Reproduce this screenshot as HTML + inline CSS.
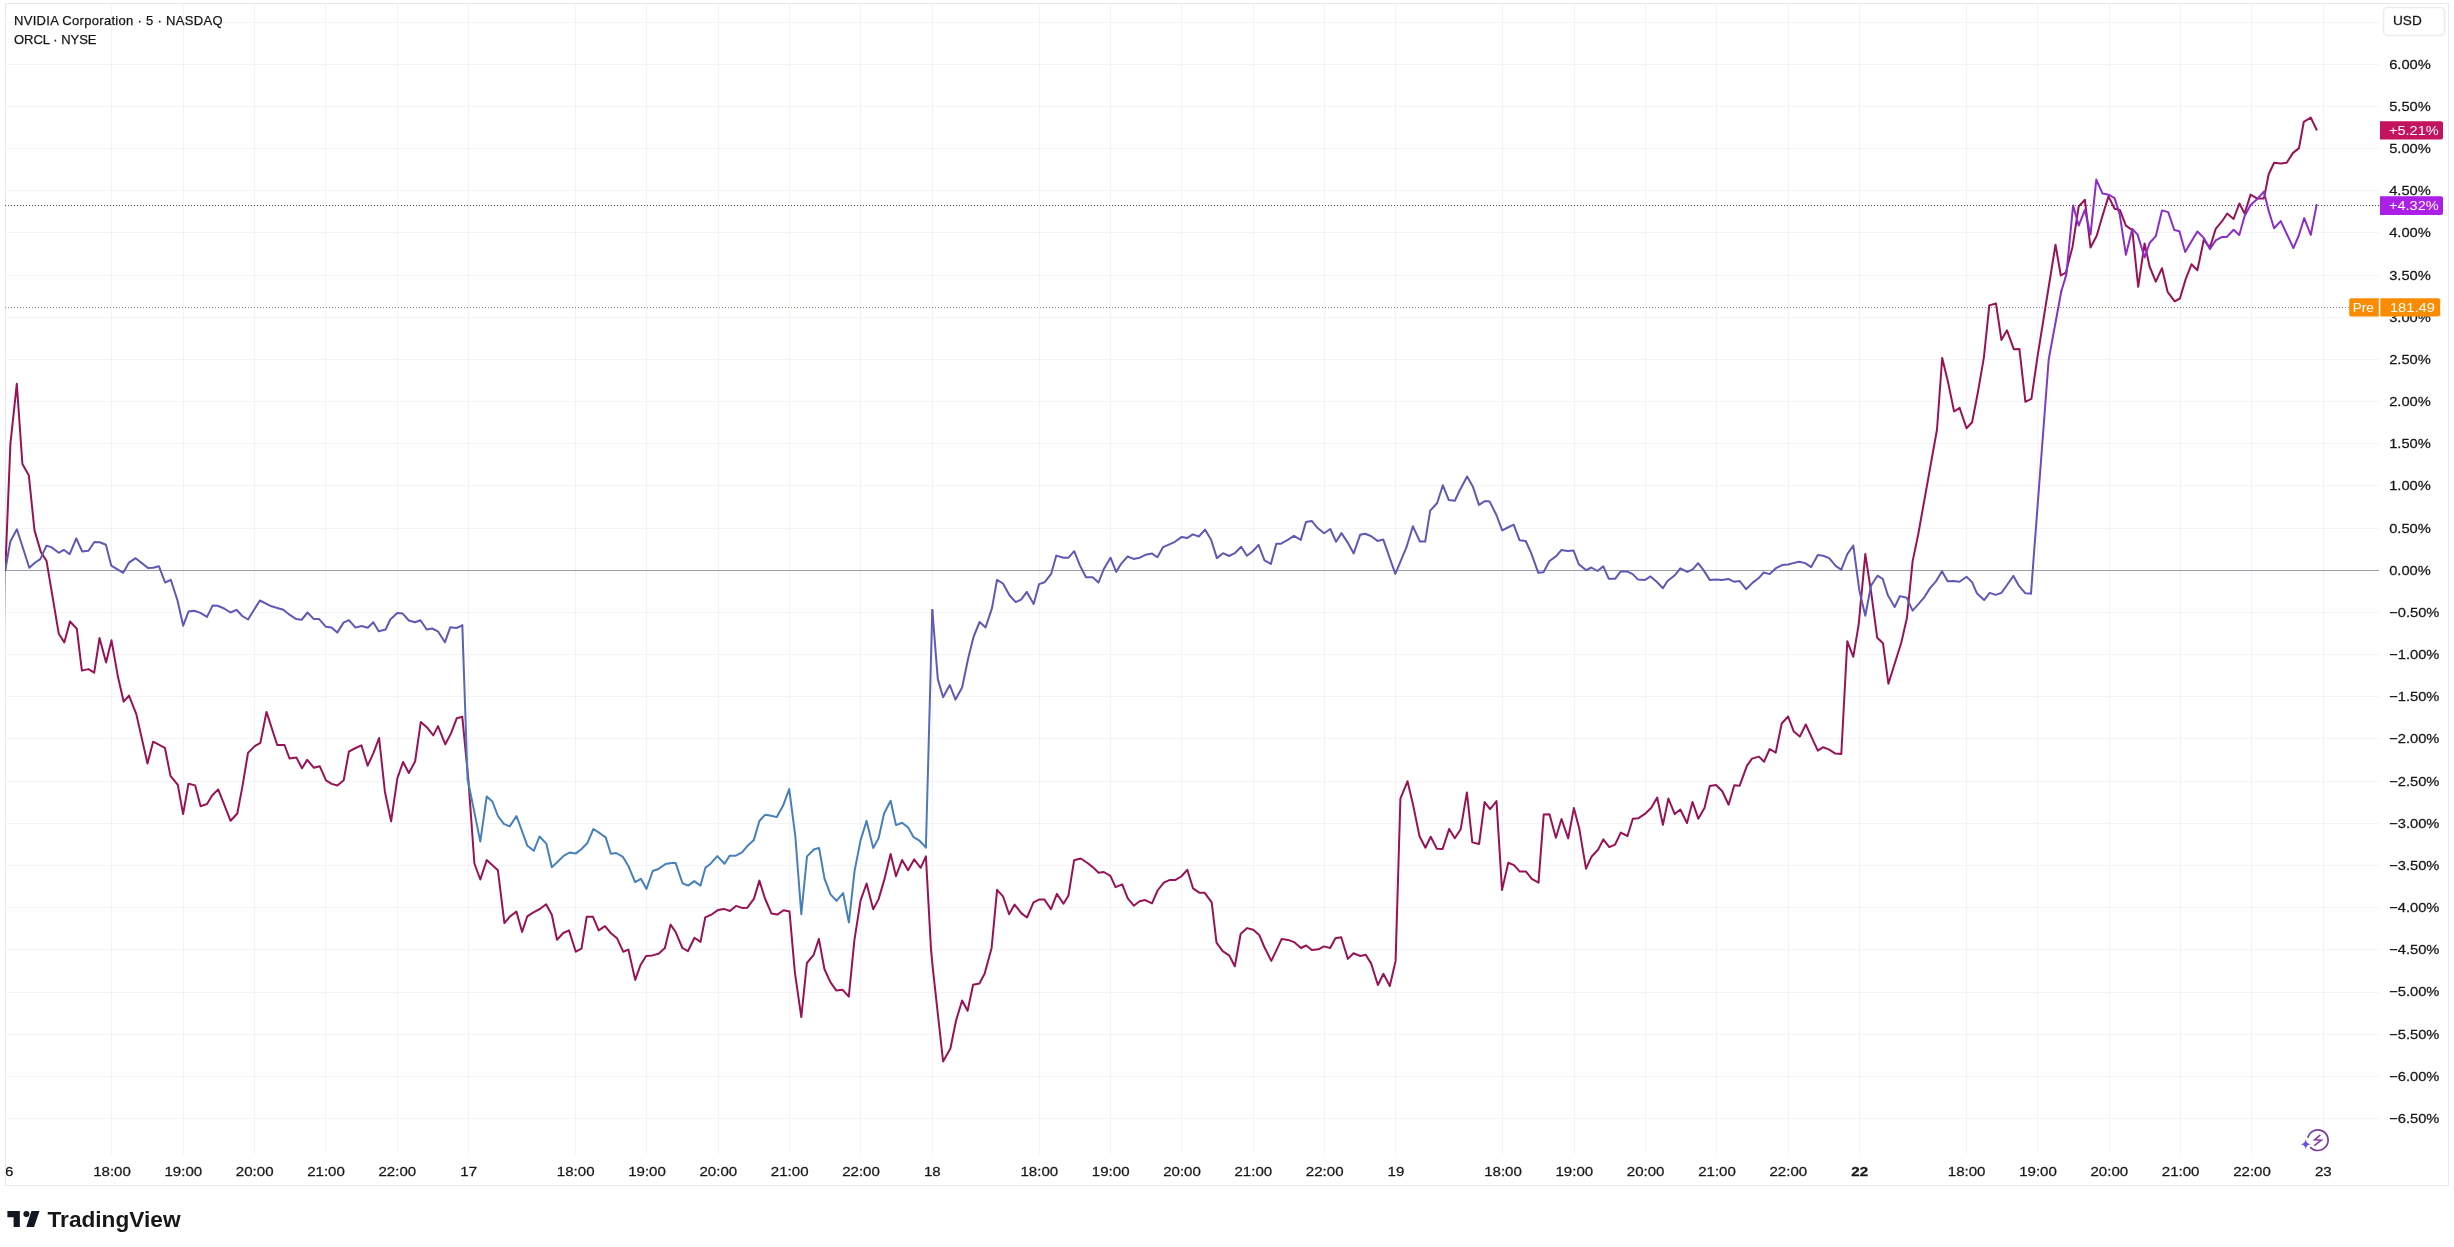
<!DOCTYPE html><html><head><meta charset="utf-8"><style>
html,body{margin:0;padding:0;background:#fff;}
body{width:2454px;height:1247px;overflow:hidden;position:relative;font-family:"Liberation Sans",sans-serif;}
svg{position:absolute;left:0;top:0;}
text{font-family:"Liberation Sans",sans-serif;}
.gs{filter:grayscale(1);}
.bd{stroke:#131722;stroke-width:0.25px;}
</style></head><body>
<svg width="2454" height="1247" viewBox="0 0 2454 1247">
<defs>
<clipPath id="plot"><rect x="5" y="3" width="2374" height="1151"/></clipPath>
<clipPath id="taxis"><rect x="6" y="1154" width="2374" height="32"/></clipPath>
<linearGradient id="g1" gradientUnits="userSpaceOnUse" x1="0" y1="625" x2="0" y2="780"><stop offset="0" stop-color="#5e59b6"/><stop offset="1" stop-color="#4680bc"/></linearGradient>
<linearGradient id="g2" gradientUnits="userSpaceOnUse" x1="0" y1="847" x2="0" y2="610"><stop offset="0" stop-color="#4680bc"/><stop offset="1" stop-color="#5e59b6"/></linearGradient>
<linearGradient id="g3" gradientUnits="userSpaceOnUse" x1="0" y1="594" x2="0" y2="280"><stop offset="0" stop-color="#5e59b6"/><stop offset="1" stop-color="#8c2ec6"/></linearGradient>
</defs>
<rect x="5.5" y="3.5" width="2443" height="1182" fill="none" stroke="#e9e9eb" stroke-width="1"/>
<g stroke="#f4f4f6" stroke-width="1"><line x1="111.5" y1="3" x2="111.5" y2="1154"/><line x1="183.5" y1="3" x2="183.5" y2="1154"/><line x1="254.5" y1="3" x2="254.5" y2="1154"/><line x1="325.5" y1="3" x2="325.5" y2="1154"/><line x1="397.5" y1="3" x2="397.5" y2="1154"/><line x1="468.5" y1="3" x2="468.5" y2="1154"/><line x1="575.5" y1="3" x2="575.5" y2="1154"/><line x1="646.5" y1="3" x2="646.5" y2="1154"/><line x1="718.5" y1="3" x2="718.5" y2="1154"/><line x1="789.5" y1="3" x2="789.5" y2="1154"/><line x1="860.5" y1="3" x2="860.5" y2="1154"/><line x1="932.5" y1="3" x2="932.5" y2="1154"/><line x1="1039.5" y1="3" x2="1039.5" y2="1154"/><line x1="1110.5" y1="3" x2="1110.5" y2="1154"/><line x1="1181.5" y1="3" x2="1181.5" y2="1154"/><line x1="1253.5" y1="3" x2="1253.5" y2="1154"/><line x1="1324.5" y1="3" x2="1324.5" y2="1154"/><line x1="1395.5" y1="3" x2="1395.5" y2="1154"/><line x1="1502.5" y1="3" x2="1502.5" y2="1154"/><line x1="1574.5" y1="3" x2="1574.5" y2="1154"/><line x1="1645.5" y1="3" x2="1645.5" y2="1154"/><line x1="1716.5" y1="3" x2="1716.5" y2="1154"/><line x1="1788.5" y1="3" x2="1788.5" y2="1154"/><line x1="1859.5" y1="3" x2="1859.5" y2="1154"/><line x1="1966.5" y1="3" x2="1966.5" y2="1154"/><line x1="2037.5" y1="3" x2="2037.5" y2="1154"/><line x1="2109.5" y1="3" x2="2109.5" y2="1154"/><line x1="2180.5" y1="3" x2="2180.5" y2="1154"/><line x1="2251.5" y1="3" x2="2251.5" y2="1154"/><line x1="2323.5" y1="3" x2="2323.5" y2="1154"/><line x1="5" y1="1118.5" x2="2379" y2="1118.5"/><line x1="5" y1="1076.5" x2="2379" y2="1076.5"/><line x1="5" y1="1034.5" x2="2379" y2="1034.5"/><line x1="5" y1="992.5" x2="2379" y2="992.5"/><line x1="5" y1="949.5" x2="2379" y2="949.5"/><line x1="5" y1="907.5" x2="2379" y2="907.5"/><line x1="5" y1="865.5" x2="2379" y2="865.5"/><line x1="5" y1="823.5" x2="2379" y2="823.5"/><line x1="5" y1="781.5" x2="2379" y2="781.5"/><line x1="5" y1="738.5" x2="2379" y2="738.5"/><line x1="5" y1="696.5" x2="2379" y2="696.5"/><line x1="5" y1="654.5" x2="2379" y2="654.5"/><line x1="5" y1="612.5" x2="2379" y2="612.5"/><line x1="5" y1="528.5" x2="2379" y2="528.5"/><line x1="5" y1="485.5" x2="2379" y2="485.5"/><line x1="5" y1="443.5" x2="2379" y2="443.5"/><line x1="5" y1="401.5" x2="2379" y2="401.5"/><line x1="5" y1="359.5" x2="2379" y2="359.5"/><line x1="5" y1="317.5" x2="2379" y2="317.5"/><line x1="5" y1="275.5" x2="2379" y2="275.5"/><line x1="5" y1="232.5" x2="2379" y2="232.5"/><line x1="5" y1="190.5" x2="2379" y2="190.5"/><line x1="5" y1="148.5" x2="2379" y2="148.5"/><line x1="5" y1="106.5" x2="2379" y2="106.5"/><line x1="5" y1="64.5" x2="2379" y2="64.5"/><line x1="5" y1="22.5" x2="2379" y2="22.5"/></g>
<line x1="5" y1="570.5" x2="2379" y2="570.5" stroke="#9b9ea6" stroke-width="1"/>
<linearGradient id="gl" gradientUnits="userSpaceOnUse" x1="0" y1="570" x2="0" y2="628"><stop offset="0" stop-color="#9b9ea6"/><stop offset="1" stop-color="#e9e9eb"/></linearGradient>
<line x1="5.5" y1="570" x2="5.5" y2="628" stroke="url(#gl)" stroke-width="1"/>
<line x1="5" y1="205.5" x2="2380" y2="205.5" stroke="#5e3f5e" stroke-width="1" stroke-dasharray="1 2"/>
<line x1="5" y1="307.5" x2="2349" y2="307.5" stroke="#8e896c" stroke-width="1" stroke-dasharray="1 2"/>
<g clip-path="url(#plot)" fill="none" stroke-width="2" stroke-linejoin="round" stroke-linecap="round">
<polyline stroke="#981355" points="5.3,570.0 10.4,443.9 16.8,383.8 22.4,464.0 28.8,475.2 34.5,530.4 40.9,552.1 46.5,560.8 58.8,633.8 64.3,642.4 70.0,621.5 76.8,628.7 81.9,670.6 88.4,669.1 94.2,672.7 99.5,638.1 106.1,662.6 111.5,640.3 118.0,677.1 123.7,701.7 129.0,695.6 136.3,714.1 147.5,763.5 153.1,741.7 164.9,747.8 170.5,775.9 177.8,784.9 183.1,814.1 188.5,783.8 195.2,785.4 200.6,806.2 207.0,804.0 212.1,795.5 218.2,789.4 230.6,820.8 237.3,813.5 242.4,786.6 248.0,752.9 254.7,746.1 260.4,742.8 266.5,711.9 277.2,745.0 284.5,745.0 289.5,758.5 296.3,757.4 302.0,768.3 307.2,759.9 314.0,767.8 319.7,766.2 326.0,780.3 331.7,783.9 337.4,785.5 343.7,780.3 348.9,751.6 354.6,748.5 361.4,745.3 367.7,765.7 373.4,753.2 379.1,738.0 384.9,791.7 391.1,821.4 397.4,778.2 403.1,762.0 408.8,773.0 415.1,761.5 420.8,721.9 427.6,728.1 433.3,735.4 438.0,726.1 445.3,744.3 451.0,733.4 456.8,718.2 462.3,716.8 468.5,781.0 474.4,863.5 480.3,879.5 486.7,860.1 497.9,870.2 504.4,923.1 509.6,916.8 516.4,911.6 522.1,931.9 527.3,916.3 533.0,912.6 539.8,909.0 546.1,904.3 551.8,914.7 557.0,939.7 563.3,933.0 569.0,930.4 575.8,951.7 581.5,948.6 586.7,916.8 593.0,916.8 598.7,930.4 605.0,926.2 610.7,933.0 617.0,938.2 623.2,951.7 628.4,949.6 635.2,979.9 640.4,965.3 646.1,955.9 652.4,955.4 658.6,953.8 664.9,948.1 670.6,924.6 675.8,932.3 682.4,948.0 687.9,951.2 694.5,937.7 700.5,941.9 705.3,917.3 711.9,914.3 717.9,910.1 723.9,908.9 729.9,911.0 736.0,905.9 742.0,907.9 747.4,907.7 754.0,898.6 759.4,880.6 764.8,898.0 771.4,913.4 777.4,914.6 783.5,910.3 789.5,911.5 794.9,972.6 801.3,1017.1 806.9,963.0 813.5,955.2 818.9,938.9 824.4,969.0 830.4,982.2 836.4,990.6 842.4,989.7 848.8,996.7 854.4,940.1 860.6,900.3 866.6,883.5 873.2,909.3 878.6,899.1 884.6,878.6 890.6,854.0 896.0,876.2 902.1,860.0 908.1,870.2 914.1,859.4 920.7,867.8 925.9,856.4 931.1,950.7 932.9,969.2 943.1,1061.4 950.4,1048.5 956.0,1020.8 962.1,1000.5 967.6,1010.7 973.1,984.8 979.4,983.5 984.6,973.8 991.6,947.9 997.1,889.8 1003.0,896.3 1009.1,914.2 1014.6,904.6 1021.5,913.4 1027.0,917.5 1033.5,902.4 1039.0,899.6 1044.5,899.6 1051.0,909.2 1056.9,893.9 1063.5,903.7 1068.5,895.4 1074.1,860.3 1080.7,858.5 1086.8,862.5 1092.5,866.9 1098.6,872.8 1103.7,872.0 1110.4,875.9 1115.5,887.2 1122.2,884.4 1127.8,898.4 1133.8,905.7 1139.6,901.2 1145.2,900.1 1152.0,903.4 1157.6,890.5 1163.8,882.7 1169.9,879.9 1175.5,879.9 1181.2,876.5 1187.3,869.8 1193.0,888.3 1199.7,892.8 1204.7,892.8 1211.7,902.3 1216.5,942.7 1222.7,951.2 1229.4,955.7 1234.8,966.3 1240.7,933.8 1247.2,928.1 1253.2,929.8 1259.2,934.9 1264.1,946.5 1271.3,960.9 1276.5,950.1 1281.7,938.9 1288.1,939.9 1294.1,942.1 1300.9,948.0 1306.2,945.5 1311.8,950.1 1318.6,949.3 1323.8,946.4 1330.2,948.0 1335.4,938.3 1341.2,937.3 1347.9,958.9 1353.5,953.3 1360.3,956.0 1365.7,954.7 1371.1,963.4 1377.9,985.0 1383.4,973.8 1389.8,986.0 1395.6,960.9 1400.4,798.7 1407.5,781.3 1412.9,803.9 1419.5,836.2 1425.4,847.7 1430.7,836.7 1436.9,848.7 1442.6,849.0 1449.2,828.9 1454.8,838.3 1460.7,829.2 1466.9,792.4 1472.3,842.4 1479.1,844.0 1484.6,802.1 1490.1,809.1 1496.5,801.1 1502.0,889.9 1508.3,862.8 1514.0,865.1 1519.8,871.6 1526.0,871.6 1531.8,878.9 1538.5,882.6 1543.7,814.6 1549.5,814.3 1555.9,837.8 1561.5,819.0 1568.2,838.3 1573.9,808.1 1579.4,829.3 1586.0,868.7 1591.5,856.7 1598.2,849.5 1603.3,839.4 1609.3,847.1 1615.0,844.7 1620.8,832.6 1627.5,836.0 1632.8,818.7 1638.6,818.2 1644.9,813.9 1651.1,808.1 1657.2,797.5 1662.9,824.9 1668.4,798.5 1674.7,814.1 1680.3,809.5 1687.0,823.0 1692.5,801.9 1698.3,818.7 1704.5,808.1 1709.8,786.0 1716.0,785.0 1722.3,791.3 1728.6,804.7 1734.3,785.2 1739.6,785.8 1747.0,765.7 1752.0,758.6 1759.0,756.6 1764.1,761.7 1769.7,749.0 1775.7,752.6 1781.7,723.5 1788.1,716.5 1793.8,731.6 1799.8,736.6 1805.8,724.5 1811.8,737.6 1817.8,750.6 1823.2,747.2 1829.2,749.6 1835.3,753.6 1841.3,754.0 1847.3,641.3 1853.3,656.8 1858.7,624.3 1865.3,554.1 1871.4,594.2 1877.2,637.7 1883.0,643.3 1888.4,683.7 1901.4,642.2 1907.0,617.5 1912.6,561.4 1918.2,534.5 1937.0,429.5 1942.2,358.0 1947.9,381.4 1954.1,411.5 1959.6,407.9 1966.5,428.3 1972.1,422.3 1977.9,392.2 1983.9,357.3 1989.3,305.4 1996.0,303.5 2001.4,339.9 2007.0,330.3 2013.8,349.2 2019.4,348.9 2025.4,401.8 2031.4,398.8 2037.4,357.3 2045.3,308.0 2055.5,244.7 2060.8,275.5 2065.8,272.7 2072.5,246.9 2078.7,206.5 2084.9,199.8 2090.5,247.5 2096.7,235.7 2102.9,214.4 2108.5,196.4 2114.6,208.8 2119.9,209.9 2125.9,225.6 2132.3,230.1 2138.2,286.8 2144.6,243.5 2149.6,266.5 2155.8,281.7 2162.0,268.2 2167.6,291.8 2174.7,301.3 2179.9,298.5 2185.6,279.4 2191.5,264.3 2197.4,270.3 2203.8,239.8 2209.9,247.5 2215.7,228.9 2222.1,221.2 2227.2,213.5 2233.6,218.9 2239.4,203.5 2244.6,213.5 2250.6,194.6 2257.3,198.6 2263.9,198.6 2268.7,174.2 2274.1,162.8 2280.7,163.4 2286.7,162.8 2292.8,153.1 2299.0,148.1 2303.8,121.8 2310.8,117.6 2316.6,129.7"/>
<polyline stroke="#5e59b6" points="5.6,568.4 10.3,541.5 16.9,529.3 29.3,567.7 35.2,562.5 40.3,559.1 46.5,545.7 51.3,547.1 58.7,552.8 63.8,549.8 69.7,554.2 76.3,538.3 82.2,551.5 88.5,550.8 94.4,542.0 99.8,542.2 105.9,544.7 111.3,565.7 123.2,572.8 129.0,562.6 135.6,558.2 147.9,567.9 153.2,567.7 158.9,566.2 165.1,582.5 170.8,579.8 177.5,600.5 183.2,625.7 188.5,611.6 194.2,610.7 200.4,612.9 207.0,616.9 212.7,605.4 217.6,605.8 224.2,608.5 230.4,612.5 236.5,609.8 242.3,616.0 248.0,619.5 259.9,600.5 271.4,606.3 283.3,609.8 289.5,614.7 296.2,619.1 301.6,619.8 307.5,612.5 313.6,618.9 319.1,619.1 326.0,626.8 331.5,627.4 337.3,632.6 343.5,622.6 348.9,620.2 355.5,627.6 361.6,626.0 367.8,627.7 373.3,622.2 378.7,631.3 385.6,629.5 390.3,619.5 397.3,612.9 402.7,613.6 408.9,620.5 415.1,622.2 420.5,620.2 426.7,629.5 432.1,628.5 437.9,631.3 444.9,642.3 450.3,627.2 456.5,628.0 462.3,625.3"/>
<polyline stroke="url(#g1)" points="462.3,625.3 467.6,779.3"/>
<polyline stroke="#4680bc" points="467.6,779.3 473.5,807.9 480.3,841.6 486.7,796.4 492.4,801.5 497.9,816.0 503.8,823.9 509.7,826.4 516.5,816.0 527.4,845.8 533.8,850.8 539.5,836.5 546.3,843.6 551.8,867.2 557.7,861.8 563.6,855.9 569.5,852.5 575.9,853.4 581.3,849.2 587.2,843.3 593.4,829.0 599.8,833.2 605.7,837.4 610.8,853.7 616.2,853.0 623.0,856.9 628.6,866.5 635.1,882.2 640.9,878.8 646.5,888.9 652.7,871.0 657.8,869.3 665.6,864.0 671.3,863.1 675.7,863.1 682.5,883.3 688.1,885.6 694.3,881.1 700.5,885.6 705.5,867.6 710.6,863.7 717.3,856.1 724.6,863.7 729.6,855.8 735.3,855.8 742.0,852.4 747.1,846.3 753.8,840.1 759.4,821.0 765.0,814.8 771.2,815.7 776.8,817.1 783.0,805.8 789.2,789.0 795.3,836.1 801.3,914.2 807.0,856.4 814.2,849.2 819.1,848.0 824.5,878.6 830.5,894.3 836.5,900.9 843.1,893.1 848.9,922.5 854.5,871.4 860.6,840.1 866.6,820.9 873.2,848.0 878.6,838.3 884.0,813.7 890.6,800.7 896.0,825.1 902.1,822.7 908.1,827.5 913.5,837.1 919.5,840.7 925.9,847.4"/>
<polyline stroke="url(#g2)" points="925.9,847.4 932.3,609.9"/>
<polyline stroke="#5e59b6" points="932.3,609.9 937.8,679.1 943.1,697.2 949.8,685.1 955.5,699.6 962.1,687.5 968.1,658.7 973.5,637.0 979.6,622.0 985.6,627.4 992.0,608.1 997.0,579.9 1003.0,583.5 1009.6,595.5 1015.7,602.1 1021.1,599.7 1026.8,591.9 1033.7,603.9 1039.1,584.1 1044.5,582.3 1051.2,573.8 1056.3,555.6 1063.6,557.7 1068.5,557.7 1074.2,551.2 1079.9,565.4 1086.0,577.2 1092.6,577.2 1098.5,582.5 1104.0,568.7 1110.5,557.7 1116.2,571.9 1121.1,563.8 1127.6,556.5 1133.7,558.9 1139.8,557.7 1145.5,554.8 1152.1,553.6 1157.4,557.3 1163.1,547.1 1168.8,544.6 1174.9,541.8 1181.8,536.9 1187.1,538.1 1192.8,534.4 1198.9,536.5 1205.0,529.6 1211.1,539.7 1216.9,558.1 1223.0,553.2 1229.1,556.0 1234.8,553.2 1241.2,546.8 1246.9,555.7 1252.5,551.5 1258.6,544.9 1264.5,560.4 1270.9,563.9 1276.3,543.7 1281.1,543.7 1287.7,539.9 1293.9,535.8 1300.8,539.9 1305.9,522.1 1311.7,520.9 1317.9,528.3 1324.1,533.3 1330.3,529.0 1336.1,541.8 1341.5,533.1 1347.7,542.6 1353.7,553.4 1360.1,534.8 1365.1,533.7 1370.9,536.0 1377.5,540.9 1383.3,539.6 1395.3,573.9 1406.5,547.2 1412.9,526.3 1419.9,541.5 1425.2,541.5 1430.2,510.7 1437.2,503.0 1442.8,485.2 1448.8,500.1 1454.8,500.8 1459.4,491.0 1467.1,476.5 1472.8,486.4 1478.9,504.9 1484.9,501.1 1489.7,501.6 1496.4,515.0 1502.2,530.4 1507.9,527.5 1513.7,524.7 1519.5,540.2 1525.7,541.0 1531.0,552.6 1538.3,572.8 1543.5,572.3 1549.3,561.2 1556.5,555.9 1561.3,550.1 1567.6,551.1 1573.6,550.6 1578.7,564.1 1586.2,570.2 1591.3,567.5 1597.5,571.0 1603.3,566.3 1608.7,578.7 1615.3,578.7 1620.7,571.4 1626.9,571.4 1632.7,574.1 1638.1,579.6 1645.1,579.9 1650.5,576.4 1656.7,581.7 1662.9,588.2 1667.5,581.0 1674.9,575.2 1680.3,568.3 1687.3,571.9 1692.7,569.4 1698.1,563.2 1703.9,570.6 1709.7,579.9 1716.3,579.6 1721.7,580.1 1728.3,578.9 1734.5,581.8 1739.5,580.9 1746.1,589.2 1752.7,582.6 1758.5,578.3 1763.7,572.5 1769.7,574.1 1776.1,568.1 1782.1,565.1 1788.1,564.5 1793.1,563.1 1799.2,561.7 1805.2,563.1 1811.2,567.1 1817.8,555.1 1823.2,555.7 1829.2,558.1 1835.9,566.1 1841.3,569.7 1847.3,554.1 1853.3,545.6 1859.3,590.2 1865.3,615.8 1871.0,585.7 1877.5,575.7 1882.7,578.9 1887.9,595.3 1894.7,607.0 1899.9,596.1 1906.7,597.7 1912.6,610.6 1918.4,604.2 1924.0,597.7 1930.0,588.1 1936.0,581.3 1942.0,571.3 1947.6,581.3 1953.6,580.9 1959.6,581.7 1966.5,576.7 1972.1,582.1 1976.9,593.3 1984.1,600.1 1989.7,592.9 1995.7,594.9 2001.4,592.9 2007.4,584.5 2013.4,575.9 2018.6,585.3 2025.4,593.3 2031.0,593.6"/>
<polyline stroke="url(#g3)" points="2031.0,593.6 2034.1,551.8 2048.7,359.5 2061.3,291.3"/>
<polyline stroke="#8c2ec6" points="2061.3,291.3 2066.4,274.4 2073.1,205.4 2078.7,225.6 2084.9,209.9 2090.5,234.6 2096.3,179.6 2102.6,193.6 2108.7,194.7 2114.6,198.1 2119.7,214.4 2125.9,254.8 2132.3,229.0 2137.6,234.6 2144.6,257.5 2149.6,243.0 2155.8,236.2 2162.0,210.4 2168.2,212.1 2174.3,230.0 2179.4,231.2 2185.2,251.9 2191.2,241.8 2197.4,231.5 2203.8,237.9 2209.9,249.1 2215.7,240.4 2222.1,236.9 2226.9,236.9 2233.6,229.8 2239.3,235.0 2244.6,216.0 2250.6,204.9 2257.3,198.9 2263.9,191.6 2268.7,210.9 2274.1,228.3 2280.7,221.1 2286.7,233.7 2293.4,248.2 2298.8,235.5 2304.2,218.1 2310.8,234.9 2316.6,204.9"/>
</g>
<g><text class="gs bd" transform="translate(2389.20,1122.91) scale(1.130,1)" font-size="13" fill="#131722">−6.50%</text><text class="gs bd" transform="translate(2389.20,1080.74) scale(1.130,1)" font-size="13" fill="#131722">−6.00%</text><text class="gs bd" transform="translate(2389.20,1038.57) scale(1.130,1)" font-size="13" fill="#131722">−5.50%</text><text class="gs bd" transform="translate(2389.20,996.40) scale(1.130,1)" font-size="13" fill="#131722">−5.00%</text><text class="gs bd" transform="translate(2389.20,954.23) scale(1.130,1)" font-size="13" fill="#131722">−4.50%</text><text class="gs bd" transform="translate(2389.20,912.06) scale(1.130,1)" font-size="13" fill="#131722">−4.00%</text><text class="gs bd" transform="translate(2389.20,869.89) scale(1.130,1)" font-size="13" fill="#131722">−3.50%</text><text class="gs bd" transform="translate(2389.20,827.72) scale(1.130,1)" font-size="13" fill="#131722">−3.00%</text><text class="gs bd" transform="translate(2389.20,785.55) scale(1.130,1)" font-size="13" fill="#131722">−2.50%</text><text class="gs bd" transform="translate(2389.20,743.38) scale(1.130,1)" font-size="13" fill="#131722">−2.00%</text><text class="gs bd" transform="translate(2389.20,701.21) scale(1.130,1)" font-size="13" fill="#131722">−1.50%</text><text class="gs bd" transform="translate(2389.20,659.04) scale(1.130,1)" font-size="13" fill="#131722">−1.00%</text><text class="gs bd" transform="translate(2389.20,616.87) scale(1.130,1)" font-size="13" fill="#131722">−0.50%</text><text class="gs bd" transform="translate(2389.20,574.70) scale(1.130,1)" font-size="13" fill="#131722">0.00%</text><text class="gs bd" transform="translate(2389.20,532.53) scale(1.130,1)" font-size="13" fill="#131722">0.50%</text><text class="gs bd" transform="translate(2389.20,490.36) scale(1.130,1)" font-size="13" fill="#131722">1.00%</text><text class="gs bd" transform="translate(2389.20,448.19) scale(1.130,1)" font-size="13" fill="#131722">1.50%</text><text class="gs bd" transform="translate(2389.20,406.02) scale(1.130,1)" font-size="13" fill="#131722">2.00%</text><text class="gs bd" transform="translate(2389.20,363.85) scale(1.130,1)" font-size="13" fill="#131722">2.50%</text><text class="gs bd" transform="translate(2389.20,321.68) scale(1.130,1)" font-size="13" fill="#131722">3.00%</text><text class="gs bd" transform="translate(2389.20,279.51) scale(1.130,1)" font-size="13" fill="#131722">3.50%</text><text class="gs bd" transform="translate(2389.20,237.34) scale(1.130,1)" font-size="13" fill="#131722">4.00%</text><text class="gs bd" transform="translate(2389.20,195.17) scale(1.130,1)" font-size="13" fill="#131722">4.50%</text><text class="gs bd" transform="translate(2389.20,153.00) scale(1.130,1)" font-size="13" fill="#131722">5.00%</text><text class="gs bd" transform="translate(2389.20,110.83) scale(1.130,1)" font-size="13" fill="#131722">5.50%</text><text class="gs bd" transform="translate(2389.20,68.66) scale(1.130,1)" font-size="13" fill="#131722">6.00%</text></g>
<g clip-path="url(#taxis)"><text class="gs bd" transform="translate(5.00,1175.70) scale(1.160,1)" font-size="13" fill="#131722" text-anchor="middle">16</text><text class="gs bd" transform="translate(112.00,1175.70) scale(1.160,1)" font-size="13" fill="#131722" text-anchor="middle">18:00</text><text class="gs bd" transform="translate(183.33,1175.70) scale(1.160,1)" font-size="13" fill="#131722" text-anchor="middle">19:00</text><text class="gs bd" transform="translate(254.66,1175.70) scale(1.160,1)" font-size="13" fill="#131722" text-anchor="middle">20:00</text><text class="gs bd" transform="translate(326.00,1175.70) scale(1.160,1)" font-size="13" fill="#131722" text-anchor="middle">21:00</text><text class="gs bd" transform="translate(397.33,1175.70) scale(1.160,1)" font-size="13" fill="#131722" text-anchor="middle">22:00</text><text class="gs bd" transform="translate(468.66,1175.70) scale(1.160,1)" font-size="13" fill="#131722" text-anchor="middle">17</text><text class="gs bd" transform="translate(575.66,1175.70) scale(1.160,1)" font-size="13" fill="#131722" text-anchor="middle">18:00</text><text class="gs bd" transform="translate(647.00,1175.70) scale(1.160,1)" font-size="13" fill="#131722" text-anchor="middle">19:00</text><text class="gs bd" transform="translate(718.33,1175.70) scale(1.160,1)" font-size="13" fill="#131722" text-anchor="middle">20:00</text><text class="gs bd" transform="translate(789.66,1175.70) scale(1.160,1)" font-size="13" fill="#131722" text-anchor="middle">21:00</text><text class="gs bd" transform="translate(860.99,1175.70) scale(1.160,1)" font-size="13" fill="#131722" text-anchor="middle">22:00</text><text class="gs bd" transform="translate(932.33,1175.70) scale(1.160,1)" font-size="13" fill="#131722" text-anchor="middle">18</text><text class="gs bd" transform="translate(1039.33,1175.70) scale(1.160,1)" font-size="13" fill="#131722" text-anchor="middle">18:00</text><text class="gs bd" transform="translate(1110.66,1175.70) scale(1.160,1)" font-size="13" fill="#131722" text-anchor="middle">19:00</text><text class="gs bd" transform="translate(1181.99,1175.70) scale(1.160,1)" font-size="13" fill="#131722" text-anchor="middle">20:00</text><text class="gs bd" transform="translate(1253.32,1175.70) scale(1.160,1)" font-size="13" fill="#131722" text-anchor="middle">21:00</text><text class="gs bd" transform="translate(1324.66,1175.70) scale(1.160,1)" font-size="13" fill="#131722" text-anchor="middle">22:00</text><text class="gs bd" transform="translate(1395.99,1175.70) scale(1.160,1)" font-size="13" fill="#131722" text-anchor="middle">19</text><text class="gs bd" transform="translate(1502.99,1175.70) scale(1.160,1)" font-size="13" fill="#131722" text-anchor="middle">18:00</text><text class="gs bd" transform="translate(1574.32,1175.70) scale(1.160,1)" font-size="13" fill="#131722" text-anchor="middle">19:00</text><text class="gs bd" transform="translate(1645.65,1175.70) scale(1.160,1)" font-size="13" fill="#131722" text-anchor="middle">20:00</text><text class="gs bd" transform="translate(1716.99,1175.70) scale(1.160,1)" font-size="13" fill="#131722" text-anchor="middle">21:00</text><text class="gs bd" transform="translate(1788.32,1175.70) scale(1.160,1)" font-size="13" fill="#131722" text-anchor="middle">22:00</text><text class="gs bd" transform="translate(1859.65,1175.70) scale(1.160,1)" font-size="13" fill="#131722" text-anchor="middle" font-weight="bold">22</text><text class="gs bd" transform="translate(1966.65,1175.70) scale(1.160,1)" font-size="13" fill="#131722" text-anchor="middle">18:00</text><text class="gs bd" transform="translate(2037.98,1175.70) scale(1.160,1)" font-size="13" fill="#131722" text-anchor="middle">19:00</text><text class="gs bd" transform="translate(2109.32,1175.70) scale(1.160,1)" font-size="13" fill="#131722" text-anchor="middle">20:00</text><text class="gs bd" transform="translate(2180.65,1175.70) scale(1.160,1)" font-size="13" fill="#131722" text-anchor="middle">21:00</text><text class="gs bd" transform="translate(2251.98,1175.70) scale(1.160,1)" font-size="13" fill="#131722" text-anchor="middle">22:00</text><text class="gs bd" transform="translate(2323.32,1175.70) scale(1.160,1)" font-size="13" fill="#131722" text-anchor="middle">23</text></g>
<text class="gs bd" x="14" y="25" font-size="13" fill="#131722" textLength="208.5" lengthAdjust="spacing">NVIDIA Corporation · 5 · NASDAQ</text>
<text class="gs bd" x="14" y="44" font-size="13" fill="#131722" textLength="82.5" lengthAdjust="spacing">ORCL · NYSE</text>
<rect x="2383.5" y="7.5" width="61" height="28" rx="4" fill="#fff" stroke="#ececee" stroke-width="1.5"/>
<text class="gs bd" transform="translate(2393.00,25.20) scale(1.050,1)" font-size="13" fill="#131722">USD</text>
<path d="M2380,121.3 h61 a2,2 0 0 1 2,2 v14.3 a2,2 0 0 1 -2,2 h-61 z" fill="#c4135f"/>
<text class="gs" transform="translate(2388.90,134.80) scale(1.120,1)" font-size="13" fill="#fff">+5.21%</text>
<path d="M2380,196.3 h61 a2,2 0 0 1 2,2 v14.6 a2,2 0 0 1 -2,2 h-61 z" fill="#ab1fe6"/>
<text class="gs" transform="translate(2388.90,210.00) scale(1.120,1)" font-size="13" fill="#fff">+4.32%</text>
<path d="M2351.2,298.2 h27.6 v18.4 h-27.6 a2,2 0 0 1 -2,-2 v-14.4 a2,2 0 0 1 2,-2 z" fill="#fb8c00"/>
<path d="M2380.3,298.2 h57.9 a2,2 0 0 1 2,2 v14.4 a2,2 0 0 1 -2,2 h-57.9 z" fill="#fb8c00"/>
<text class="gs" transform="translate(2352.70,311.80) scale(1.050,1)" font-size="13" fill="#fff">Pre</text>
<text class="gs" transform="translate(2389.90,311.80) scale(1.130,1)" font-size="13" fill="#fff">181.49</text>
<circle cx="2317.8" cy="1140.2" r="13" fill="#fff"/>
<path d="M 2307.81,1137.71 A 10.30,10.30 0 1 1 2310.17,1147.12" fill="none" stroke="#7b3d9b" stroke-width="1.7"/>
<path d="M 2320.4,1134.9 L 2314.6,1139.8 L 2321.3,1140.2 L 2314.3,1145.7" fill="none" stroke="#8b3aaa" stroke-width="1.6" stroke-linejoin="miter"/>
<path d="M2305.7,1139.3 Q2306.3,1143.7 2310.7,1144.3 Q2306.3,1144.9 2305.7,1149.3 Q2305.1,1144.9 2300.7,1144.3 Q2305.1,1143.7 2305.7,1139.3 z" fill="#6b4fe6"/>
<g transform="translate(7.4,1207.35) scale(0.889)" fill="#131722">
<path d="M14 22H7V11H0V4h14v18zM21.3 22L27 4H36.1L30 22z"/><circle cx="21.4" cy="7.6" r="3.4"/>
</g>
<text class="gs" x="47.5" y="1226.9" font-size="22" font-weight="bold" fill="#131722" textLength="133" lengthAdjust="spacingAndGlyphs">TradingView</text>
</svg></body></html>
